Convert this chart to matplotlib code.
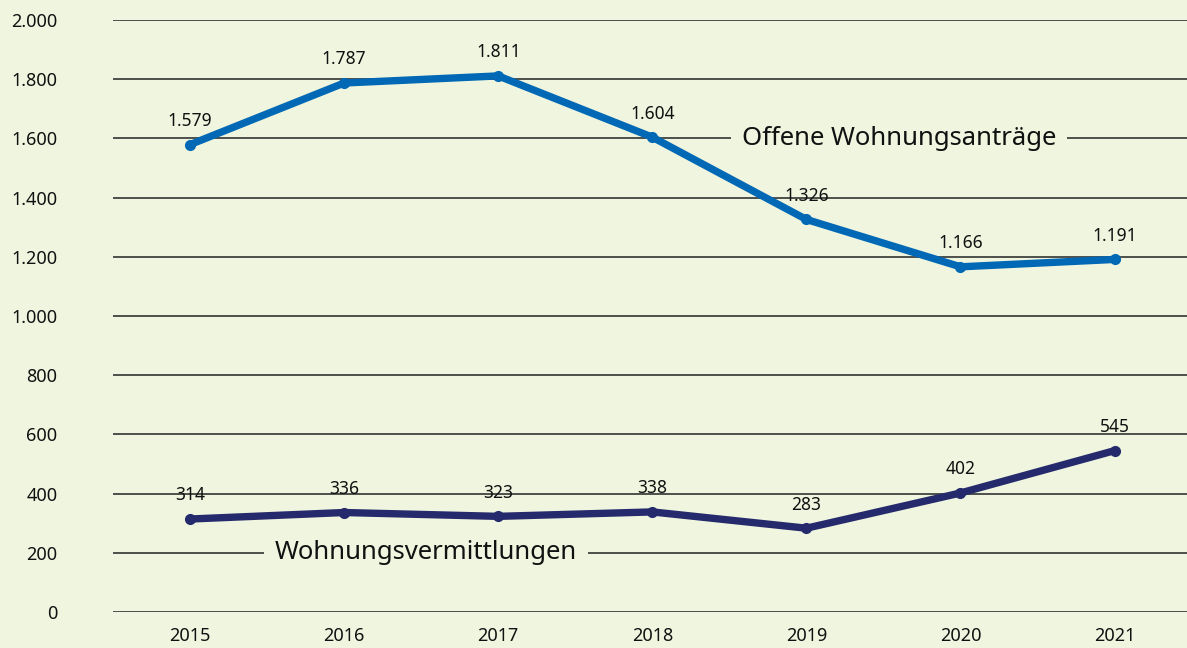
import matplotlib
matplotlib.use('Agg')
import matplotlib.pyplot as plt
from matplotlib.ticker import FuncFormatter

years = ['2015', '2016', '2017', '2018', '2019', '2020', '2021']
offene = [1579, 1787, 1811, 1604, 1326, 1166, 1191]
vermittlungen = [314, 336, 323, 338, 283, 402, 545]

BG = '#eff5df'
BLUE = '#0068b4'
NAVY = '#252a6c'

plt.rcParams['font.family'] = ['Noto Sans', 'DejaVu Sans']


def de_fmt(v, _pos=None):
    return f'{int(v):,}'.replace(',', '.')


fig = plt.figure(figsize=(11.87, 6.48), dpi=100, facecolor=BG)
ax = fig.add_axes([0.0952, 0.0556, 0.9048, 0.9136], facecolor=BG)

x = range(len(years))
ax.plot(x, offene, color=BLUE, lw=5.3, marker='o', ms=7, solid_capstyle='round', zorder=3)
ax.plot(x, vermittlungen, color=NAVY, lw=5.3, marker='o', ms=7, solid_capstyle='round', zorder=3)

for xi, v in zip(x, offene):
    ax.annotate(de_fmt(v), (xi, v), xytext=(0, 10.5), textcoords='offset points',
                ha='center', va='bottom', fontsize=12.5, color='#111111', zorder=4)
for xi, v in zip(x, vermittlungen):
    ax.annotate(de_fmt(v), (xi, v), xytext=(0, 10.5), textcoords='offset points',
                ha='center', va='bottom', fontsize=12.5, color='#111111', zorder=4)

# series names sitting on gridlines
ax.text(4.6, 1600, 'Offene Wohnungsanträge', ha='center', va='center', fontsize=18.5,
        color='#111111', zorder=2,
        bbox=dict(facecolor=BG, edgecolor='none', pad=8))
ax.text(1.53, 200, 'Wohnungsvermittlungen', ha='center', va='center', fontsize=18.5,
        color='#111111', zorder=2,
        bbox=dict(facecolor=BG, edgecolor='none', pad=8))

ax.set_xlim(-0.5, 6.47)
ax.set_ylim(0, 2000)
ax.set_yticks(range(0, 2001, 200))
ax.yaxis.set_major_formatter(FuncFormatter(de_fmt))
ax.set_xticks(list(x))
ax.set_xticklabels(years)
ax.grid(axis='y', color='#222222', lw=1.1, zorder=1)
ax.set_axisbelow(True)
ax.tick_params(axis='both', length=0, labelsize=13, colors='#111111')
ax.tick_params(axis='y', pad=40)
ax.tick_params(axis='x', pad=11)
for s in ax.spines.values():
    s.set_visible(False)

fig.savefig('out.png', dpi=100, facecolor=BG)
